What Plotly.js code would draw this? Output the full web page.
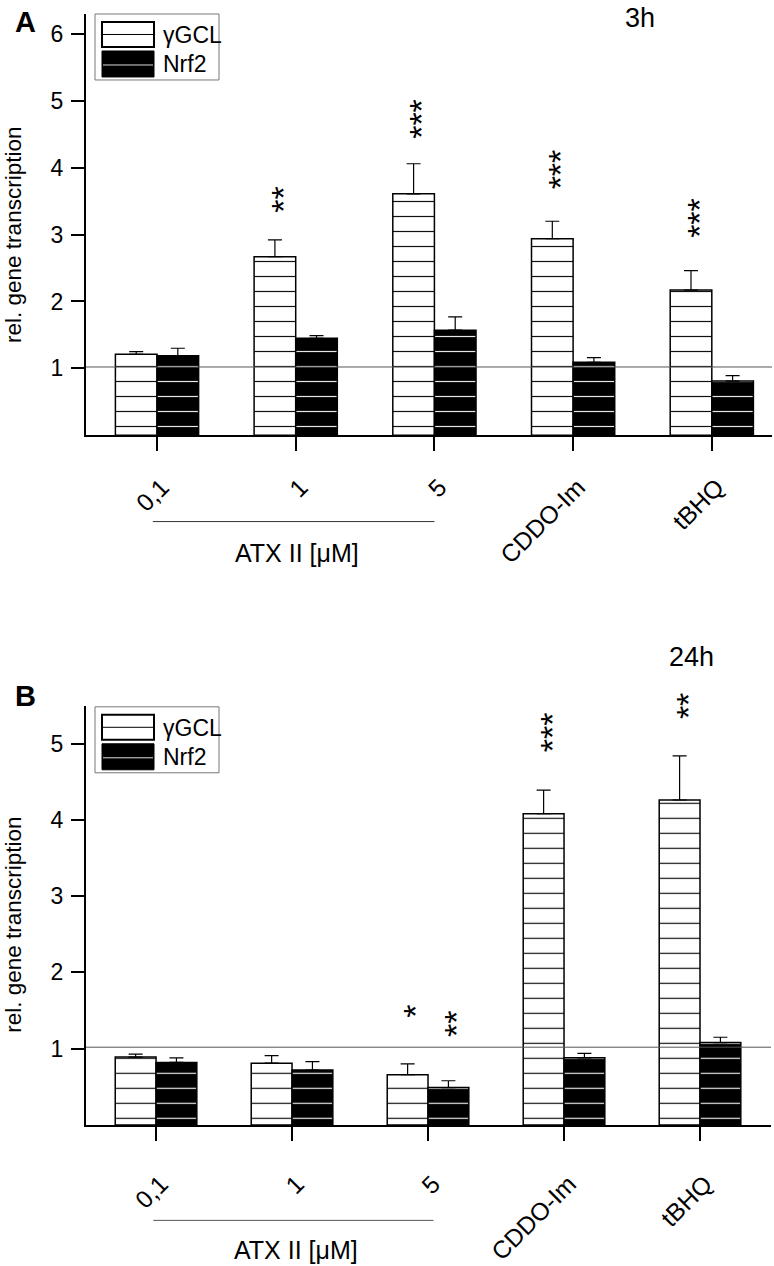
<!DOCTYPE html>
<html><head><meta charset="utf-8">
<script src="https://cdn.plot.ly/plotly-3.0.1.min.js"></script>
<style>html,body{margin:0;padding:0;background:#fff}</style>
</head><body><div id="chart" style="width:774px;height:1266px"></div>
<script>
// ---------- data ----------
const categories = ['0,1', '1', '5', 'CDDO-Im', 'tBHQ'];
const seriesNames = ['\u03b3GCL', 'Nrf2'];
// Panel A (3h)
const gclA    = [1.21, 2.67, 3.61, 2.94, 2.17];
const gclAErr = [0.04, 0.25, 0.45, 0.26, 0.29];
const nrfA    = [1.19, 1.45, 1.57, 1.09, 0.81];
const nrfAErr = [0.11, 0.04, 0.20, 0.07, 0.08];
// Panel B (24h)
const gclB    = [0.89, 0.81, 0.66, 4.08, 4.26];
const gclBErr = [0.04, 0.10, 0.14, 0.31, 0.58];
const nrfB    = [0.82, 0.72, 0.49, 0.88, 1.08];
const nrfBErr = [0.06, 0.11, 0.09, 0.06, 0.07];
// significance marks and the level of the lowest star
const sigA_gcl  = ['', '**', '***', '***', '***'];
const sigA_gclY = [null, 3.42, 4.54, 3.78, 3.05];
const sigA_nrf  = ['', '', '', '', ''];
const sigA_nrfY = [null, null, null, null, null];
const sigB_gcl  = ['', '', '*', '***', '**'];
const sigB_gclY = [null, null, 1.49, 4.98, 5.41];
const sigB_nrf  = ['', '', '**', '', ''];
const sigB_nrfY = [null, null, 1.24, null, null];
const yTicksA = [1, 2, 3, 4, 5, 6];
const yTicksB = [1, 2, 3, 4, 5];
const refLevel = 1.02;
const panelTimes = ['3h', '24h'];
const panelLetters = ['A', 'B'];
const groupLabel = 'ATX II [\u03bcM]';
const yTitle = 'rel. gene transcription';

// ---------- geometry helpers (pixel -> paper) ----------
const W = 774, H = 1266;
const ML = 86, MR = 2, MT = 14, MB = 140.7;
const PW = W - ML - MR, PH = H - MT - MB;
const px = v => (v - ML) / PW;
const py = v => (H - MB - v) / PH;
const FONT = 'Liberation Sans, Arial, sans-serif';

const zeros = categories.map(() => 0);

function barTrace(y, err, name, dark, xa, ya) {
  return {
    type: 'bar', x: categories, y: y, name: name, xaxis: xa, yaxis: ya,
    showlegend: false, hoverinfo: 'skip',
    marker: {
      color: dark ? 'black' : 'white',
      line: {color: 'black', width: 1.5},
      pattern: {shape: '-', size: 15, solidity: 0.08,
                fgcolor: dark ? '#e6e6e6' : '#111', bgcolor: dark ? 'black' : 'white',
                fillmode: 'replace'}
    },
    error_y: {type: 'data', symmetric: false, array: err, arrayminus: zeros,
              color: 'black', thickness: 1.2, width: 7}
  };
}

const data = [
  barTrace(gclA, gclAErr, seriesNames[0], false, 'x', 'y'),
  barTrace(nrfA, nrfAErr, seriesNames[1], true, 'x', 'y'),
  barTrace(gclB, gclBErr, seriesNames[0], false, 'x2', 'y2'),
  barTrace(nrfB, nrfBErr, seriesNames[1], true, 'x2', 'y2')
];

const shapes = [];
const annotations = [];

// reference lines at 1
shapes.push({type: 'line', xref: 'x domain', yref: 'y', x0: 0, x1: 1, y0: refLevel, y1: refLevel,
             line: {color: '#555', width: 1}, layer: 'above'});
shapes.push({type: 'line', xref: 'x2 domain', yref: 'y2', x0: 0, x1: 1, y0: refLevel, y1: refLevel,
             line: {color: '#555', width: 1}, layer: 'above'});

// brackets under ATX II concentrations
shapes.push({type: 'line', xref: 'x', yref: 'paper', x0: -0.03, x1: 2.0, y0: py(521.7), y1: py(521.7),
             line: {color: '#333', width: 1}});
shapes.push({type: 'line', xref: 'x2', yref: 'paper', x0: -0.02, x1: 2.04, y0: py(1220.7), y1: py(1220.7),
             line: {color: '#555', width: 1}});
annotations.push({xref: 'paper', yref: 'paper', x: px(297), y: py(553), text: groupLabel, showarrow: false,
                  xanchor: 'center', yanchor: 'middle', font: {size: 25, color: 'black'}});
annotations.push({xref: 'paper', yref: 'paper', x: px(296), y: py(1250), text: groupLabel, showarrow: false,
                  xanchor: 'center', yanchor: 'middle', font: {size: 25, color: 'black'}});

// custom legends
function legend(T) {
  const L = 95, R = 219;
  shapes.push({type: 'rect', xref: 'paper', yref: 'paper', x0: px(L), x1: px(R), y0: py(T), y1: py(T + 66),
               line: {color: '#777', width: 1}, fillcolor: 'rgba(0,0,0,0)'});
  shapes.push({type: 'rect', xref: 'paper', yref: 'paper', x0: px(102), x1: px(154), y0: py(T + 8), y1: py(T + 33),
               line: {color: 'black', width: 2}, fillcolor: 'white'});
  shapes.push({type: 'line', xref: 'paper', yref: 'paper', x0: px(102), x1: px(154), y0: py(T + 20.5), y1: py(T + 20.5),
               line: {color: 'black', width: 1}});
  shapes.push({type: 'rect', xref: 'paper', yref: 'paper', x0: px(102), x1: px(154), y0: py(T + 37), y1: py(T + 63),
               line: {color: 'black', width: 1}, fillcolor: 'black'});
  shapes.push({type: 'line', xref: 'paper', yref: 'paper', x0: px(103), x1: px(153), y0: py(T + 51), y1: py(T + 51),
               line: {color: '#ddd', width: 1}});
  annotations.push({xref: 'paper', yref: 'paper', x: px(161), y: py(T + 21), text: seriesNames[0], showarrow: false,
                    xanchor: 'left', yanchor: 'middle', font: {size: 23, color: 'black'}});
  annotations.push({xref: 'paper', yref: 'paper', x: px(161), y: py(T + 50), text: seriesNames[1], showarrow: false,
                    xanchor: 'left', yanchor: 'middle', font: {size: 23, color: 'black'}});
}
legend(14);
legend(707);

// panel letters / times / y titles
annotations.push({xref: 'paper', yref: 'paper', x: px(25), y: py(22), text: '<b>' + panelLetters[0] + '</b>', showarrow: false,
                  xanchor: 'center', yanchor: 'middle', font: {size: 29, color: 'black'}});
annotations.push({xref: 'paper', yref: 'paper', x: px(25), y: py(696), text: '<b>' + panelLetters[1] + '</b>', showarrow: false,
                  xanchor: 'center', yanchor: 'middle', font: {size: 29, color: 'black'}});
annotations.push({xref: 'paper', yref: 'paper', x: px(640), y: py(18), text: panelTimes[0], showarrow: false,
                  xanchor: 'center', yanchor: 'middle', font: {size: 27, color: 'black'}});
annotations.push({xref: 'paper', yref: 'paper', x: px(691), y: py(657), text: panelTimes[1], showarrow: false,
                  xanchor: 'center', yanchor: 'middle', font: {size: 27, color: 'black'}});
annotations.push({xref: 'paper', yref: 'paper', x: px(14), y: py(235), text: yTitle, textangle: -90, showarrow: false,
                  xanchor: 'center', yanchor: 'middle', font: {size: 22.5, color: 'black'}});
annotations.push({xref: 'paper', yref: 'paper', x: px(14), y: py(925), text: yTitle, textangle: -90, showarrow: false,
                  xanchor: 'center', yanchor: 'middle', font: {size: 22.5, color: 'black'}});

// significance stars: one rotated text per stack, as in the original figure
const STAR_SIZE = 34, STAR_STEP = 0.389 * STAR_SIZE;
function stars(sig, sigY, offset, xa, ya) {
  sig.forEach((s, i) => {
    if (!s) return;
    annotations.push({xref: xa, yref: ya, x: i + offset, y: sigY[i],
                      yshift: (s.length - 1) / 2 * STAR_STEP, xshift: 0.23 * STAR_SIZE,
                      text: s, textangle: -90, showarrow: false, xanchor: 'center', yanchor: 'middle',
                      font: {size: STAR_SIZE, color: 'black'}});
  });
}
stars(sigA_gcl, sigA_gclY, -0.15, 'x', 'y');
stars(sigA_nrf, sigA_nrfY, 0.15, 'x', 'y');
stars(sigB_gcl, sigB_gclY, -0.15, 'x2', 'y2');
stars(sigB_nrf, sigB_nrfY, 0.15, 'x2', 'y2');

const xCommon = {
  type: 'category', categoryorder: 'array', categoryarray: categories,
  showline: true, linewidth: 2, linecolor: 'black', showgrid: false, zeroline: false,
  ticks: 'outside', ticklen: 14, tickwidth: 2, tickcolor: 'black', tickangle: -45,
  tickfont: {size: 24.5, color: 'black'}, ticklabelshift: 5, fixedrange: true
};
const yCommon = {
  showline: true, linewidth: 2, linecolor: 'black', showgrid: false, zeroline: false,
  ticks: 'outside', ticklen: 13, tickwidth: 2, tickcolor: 'black', ticklabelstandoff: 3,
  tickfont: {size: 23, color: 'black'}, fixedrange: true
};

const layout = {
  width: W, height: H,
  margin: {l: ML, r: MR, t: MT, b: MB, pad: 0},
  paper_bgcolor: 'white', plot_bgcolor: 'rgba(0,0,0,0)',
  font: {family: FONT, color: 'black'},
  barmode: 'group', bargap: 0.4, bargroupgap: 0,
  showlegend: false,
  xaxis: Object.assign({}, xCommon, {domain: [0, 1], anchor: 'y', range: [-0.512, 4.434], ticklabelstandoff: 12}),
  yaxis: Object.assign({}, yCommon, {domain: [py(435.3), 1], anchor: 'x', range: [0, 6.30], tickvals: yTicksA}),
  xaxis2: Object.assign({}, xCommon, {domain: [0, px(771)], anchor: 'y2', range: [-0.515, 4.522], ticklabelstandoff: 19}),
  yaxis2: Object.assign({}, yCommon, {domain: [0, py(706)], anchor: 'x2', range: [0, 5.495], tickvals: yTicksB}),
  shapes: shapes,
  annotations: annotations
};

Plotly.newPlot('chart', data, layout, {displayModeBar: false, staticPlot: true});
</script>
</body></html>
